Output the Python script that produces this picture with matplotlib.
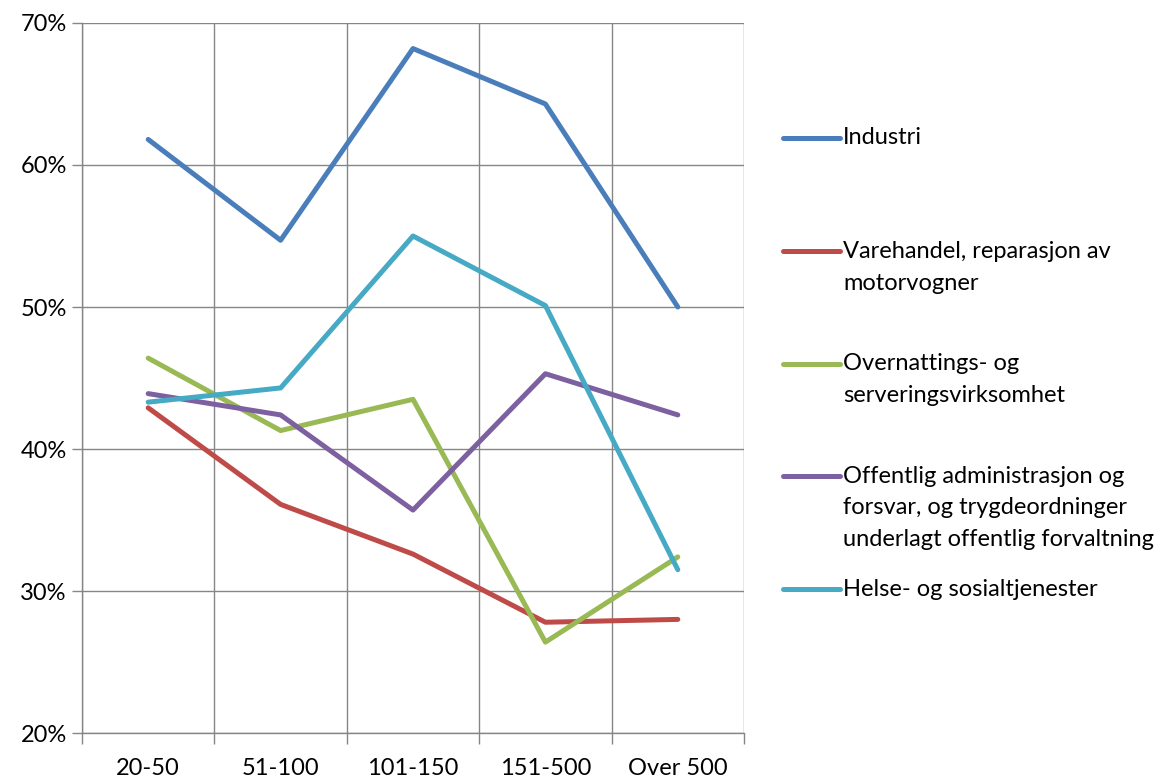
import matplotlib.pyplot as plt
from matplotlib.lines import Line2D
from matplotlib.ticker import FuncFormatter

categories = ["20-50", "51-100", "101-150", "151-500", "Over 500"]
industri = [61.8, 54.7, 68.2, 64.3, 50.0]
varehandel = [42.9, 36.1, 32.6, 27.8, 28.0]
overnatting = [46.4, 41.3, 43.5, 26.4, 32.4]
offentlig = [43.9, 42.4, 35.7, 45.3, 42.4]
helse = [43.3, 44.3, 55.0, 50.1, 31.5]

series = [
    (["Industri"], industri, "#4A7EBB"),
    (["Varehandel, reparasjon av", "motorvogner"], varehandel, "#BE4B48"),
    (["Overnattings- og", "serveringsvirksomhet"], overnatting, "#98B954"),
    (["Offentlig administrasjon og", "forsvar, og trygdeordninger",
      "underlagt offentlig forvaltning"], offentlig, "#7D60A0"),
    (["Helse- og sosialtjenester"], helse, "#46AAC5"),
]

plt.rcParams['font.family'] = ['Lato', 'DejaVu Sans']

W, H = 1174, 780
fig = plt.figure(figsize=(W / 100, H / 100), dpi=100)
ax = fig.add_axes([82 / W, 1 - 733 / H, (744 - 82) / W, (733 - 23) / H])

x = list(range(len(categories)))
for label, vals, col in series:
    ax.plot(x, vals, color=col, lw=3.6, solid_capstyle="round",
            solid_joinstyle="round", zorder=3)

ax.set_xlim(-0.5, len(categories) - 0.5)
ax.set_ylim(20, 70)
ax.set_yticks(range(20, 71, 10))
ax.yaxis.set_major_formatter(FuncFormatter(lambda v, p: f"{v:.0f}%"))
ax.set_xticks(x)
ax.set_xticklabels(categories)
ax.set_xticks([i - 0.5 for i in range(len(categories) + 1)], minor=True)
ax.tick_params(axis="x", which="major", length=0, pad=18, labelsize=17)
ax.tick_params(axis="x", which="minor", length=8, color="#868686", width=1)
ax.tick_params(axis="y", length=7, color="#868686", width=1, labelsize=17, pad=4)
ax.grid(True, axis="y", color="#868686", lw=1)
ax.grid(True, axis="x", which="minor", color="#868686", lw=1)
for s in ["top", "right"]:
    ax.spines[s].set_visible(False)
for s in ["left", "bottom"]:
    ax.spines[s].set_color("#868686")
    ax.spines[s].set_linewidth(1)

# legend
ys = [138, 251, 364, 476, 589]
for (label, vals, col), y in zip(series, ys):
    fig.add_artist(Line2D([783 / W, 840 / W], [1 - y / H, 1 - y / H], color=col,
                          lw=3.6, solid_capstyle="round"))
    for k, line in enumerate(label):
        fig.text(843 / W, 1 - (y + 32 * k) / H, line, fontsize=17, va="center",
                 ha="left")

fig.savefig("out.png", dpi=100)
